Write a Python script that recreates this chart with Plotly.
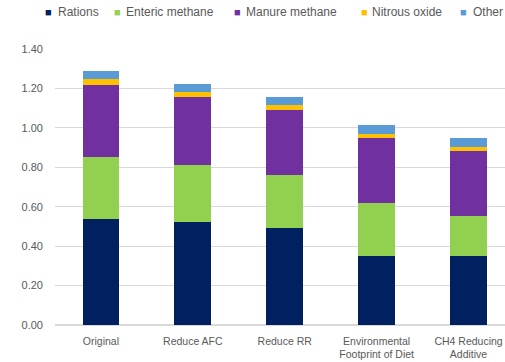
import plotly.graph_objects as go

categories = ["Original", "Reduce AFC", "Reduce RR", "Environmental<br>Footprint of Diet", "CH4 Reducing<br>Additive"]
rations = [0.54, 0.52, 0.494, 0.35, 0.35]
enteric = [0.31, 0.29, 0.269, 0.268, 0.205]
manure = [0.365, 0.345, 0.33, 0.332, 0.327]
nitrous = [0.033, 0.029, 0.021, 0.021, 0.023]
other = [0.041, 0.039, 0.044, 0.042, 0.043]
yticks = [0.0, 0.2, 0.4, 0.6, 0.8, 1.0, 1.2, 1.4]

series_names = ["Rations", "Enteric methane", "Manure methane", "Nitrous oxide", "Other"]
series_vals = [rations, enteric, manure, nitrous, other]
series_cols = ["#002060", "#92D050", "#7030A0", "#FFC000", "#5B9BD5"]

W, H = 505, 362
L, R, T, B = 55, 0, 49, 37
pw, ph = W - L - R, H - T - B

fig = go.Figure()
for name, vals, col in zip(series_names, series_vals, series_cols):
    fig.add_trace(go.Bar(x=list(range(len(categories))), y=vals, name=name,
                         marker=dict(color=col, line=dict(width=0)), width=0.40,
                         showlegend=False))

# legend drawn as text annotations (square glyph + label)
legend_sq_px = [48, 117, 237, 364, 463]
legend_tx_px = [56, 124, 244, 370, 471]
legend_y_px = 12
annotations = []
for name, col, sx, tx in zip(series_names, series_cols, legend_sq_px, legend_tx_px):
    yy = (H - B - legend_y_px) / ph
    annotations.append(dict(x=(sx - L) / pw, y=yy, xref="paper", yref="paper", text="■",
                            showarrow=False, xanchor="center", yanchor="middle",
                            font=dict(size=11, color=col)))
    annotations.append(dict(x=(tx - L) / pw, y=yy, xref="paper", yref="paper", text=name,
                            showarrow=False, xanchor="left", yanchor="middle",
                            font=dict(size=12, color="#595959")))

fig.update_layout(
    barmode="stack",
    width=W, height=H,
    margin=dict(l=L, r=R, t=T, b=B),
    paper_bgcolor="white", plot_bgcolor="white",
    font=dict(family="Liberation Sans, Arial, sans-serif", size=10, color="#595959"),
    showlegend=False,
    annotations=annotations,
    xaxis=dict(tickmode="array", tickvals=list(range(len(categories))), ticktext=categories,
               range=[-0.5, 4.397], showgrid=False, zeroline=False, showline=False,
               tickfont=dict(size=10.5), ticks="", ticklabelstandoff=8),
    yaxis=dict(range=[0, 1.4], tickvals=yticks, tickformat=".2f", showgrid=True,
               gridcolor="#D9D9D9", gridwidth=1, zeroline=True, zerolinecolor="#D9D9D9",
               showline=False, tickfont=dict(size=11), ticks="", ticklabelstandoff=11),
)
fig.write_html("out.html")
